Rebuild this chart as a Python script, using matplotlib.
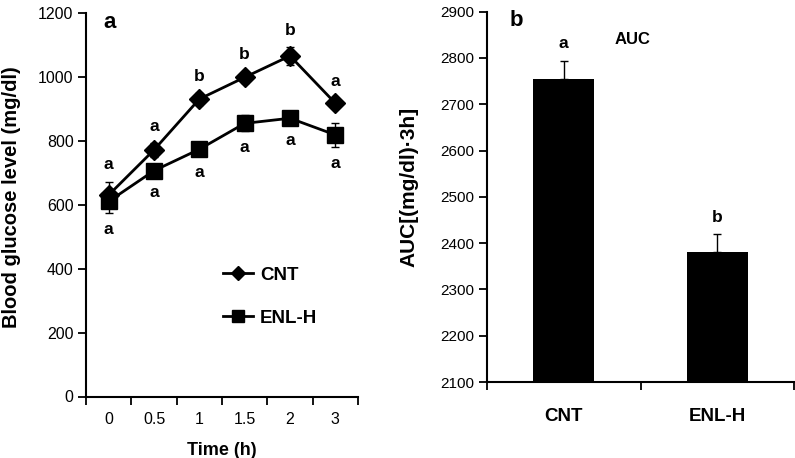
import matplotlib
matplotlib.use("Agg")
import matplotlib.pyplot as plt
import numpy as np
from matplotlib.lines import Line2D

plt.rcParams['font.family'] = ['Liberation Sans', 'DejaVu Sans']

# ---- data ----
time_labels = ["0", "0.5", "1", "1.5", "2", "3"]
cnt_mean = [630, 771, 930, 998, 1065, 917]
cnt_err = [42, 22, 20, 18, 27, 16]
enl_mean = [610, 706, 773, 854, 870, 818]
enl_err = [35, 16, 20, 25, 18, 38]
cnt_letters = ["a", "a", "b", "b", "b", "a"]
enl_letters = ["a", "a", "a", "a", "a", "a"]

groups = ["CNT", "ENL-H"]
auc_mean = [2754, 2380]
auc_err = [40, 39]
auc_letters = ["a", "b"]

W, H = 795, 458
fig = plt.figure(figsize=(W / 100, H / 100), dpi=100)

def box(x0, y0, x1, y1):
    return [x0 / W, 1 - y1 / H, (x1 - x0) / W, (y1 - y0) / H]

# ---------------- panel a ----------------
ax = fig.add_axes(box(86, 12.7, 358, 396.5))
x = np.arange(len(time_labels))
ax.errorbar(x, cnt_mean, yerr=cnt_err, color='black', lw=2, marker='D', ms=10.5,
            ecolor='black', elinewidth=1, capsize=3, capthick=1, zorder=3)
ax.errorbar(x, enl_mean, yerr=enl_err, color='black', lw=2, marker='s', ms=12,
            ecolor='black', elinewidth=1, capsize=3, capthick=1, zorder=3)
pad = 52
for i in range(len(x)):
    ax.text(x[i], cnt_mean[i] + cnt_err[i] + pad, cnt_letters[i], ha='center',
            va='center', fontsize=12.5, fontweight='bold')
    ax.text(x[i], enl_mean[i] - enl_err[i] - pad, enl_letters[i], ha='center',
            va='center', fontsize=12.5, fontweight='bold')

ax.set_xlim(-0.5, len(time_labels) - 0.5)
ax.set_ylim(0, 1200)
ax.set_yticks(np.arange(0, 1201, 200))
ax.set_xticks(np.arange(-0.5, len(time_labels), 1.0))
ax.set_xticklabels([])
ax.set_xticks(x, minor=True)
ax.set_xticklabels(time_labels, minor=True)
ax.tick_params(axis='x', which='minor', length=0, pad=11, labelsize=11.5)
ax.tick_params(axis='x', which='major', direction='out', length=6, width=1.3)
ax.tick_params(axis='y', direction='out', length=6, width=1.3, labelsize=11.5, pad=3)
for s in ['top', 'right']:
    ax.spines[s].set_visible(False)
for s in ['left', 'bottom']:
    ax.spines[s].set_linewidth(1.5)
ax.set_ylabel("Blood glucose level (mg/dl)", fontsize=14.5, fontweight='bold')
ax.yaxis.set_label_coords(-0.24, 0.52)
ax.set_xlabel("Time (h)", fontsize=13, fontweight='bold', labelpad=11)
ax.text(0.065, 0.975, "a", transform=ax.transAxes, fontsize=16, fontweight='bold',
        ha='left', va='center')

handles = [Line2D([], [], color='black', lw=2, marker='D', ms=7),
           Line2D([], [], color='black', lw=2, marker='s', ms=8)]
leg = ax.legend(handles, groups, loc='center left', bbox_to_anchor=(0.44, 0.26),
                frameon=False, handlelength=1.6, handletextpad=0.4, labelspacing=1.4,
                prop={'size': 13.5, 'weight': 'bold'})

# ---------------- panel b ----------------
bx = fig.add_axes(box(487, 11.7, 794, 382))
xb = np.arange(len(groups))
bx.bar(xb, auc_mean, width=0.4, color='black', zorder=2)
bx.errorbar(xb, auc_mean, yerr=[np.zeros(len(auc_err)), auc_err], fmt='none',
            ecolor='black', elinewidth=1, capsize=3, capthick=1, zorder=3)
for i in range(len(xb)):
    bx.text(xb[i], auc_mean[i] + auc_err[i] + 37, auc_letters[i], ha='center',
            va='center', fontsize=12.5, fontweight='bold')
bx.set_xlim(-0.5, len(groups) - 0.5)
bx.set_ylim(2100, 2900)
bx.set_yticks(np.arange(2100, 2901, 100))
bx.set_xticks(np.arange(-0.5, len(groups), 1.0))
bx.set_xticklabels([])
bx.set_xticks(xb, minor=True)
bx.set_xticklabels(groups, minor=True, fontweight='bold')
bx.tick_params(axis='x', which='minor', length=0, pad=19, labelsize=13.5)
bx.tick_params(axis='x', which='major', direction='out', length=6, width=1.3)
bx.tick_params(axis='y', direction='out', length=6, width=1.3, labelsize=11, pad=3)
for s in ['top', 'right']:
    bx.spines[s].set_visible(False)
for s in ['left', 'bottom']:
    bx.spines[s].set_linewidth(1.5)
bx.set_ylabel("AUC[(mg/dl)·3h]", fontsize=15, fontweight='bold')
bx.yaxis.set_label_coords(-0.222, 0.527)
bx.text(0.075, 0.975, "b", transform=bx.transAxes, fontsize=16, fontweight='bold',
        ha='left', va='center')
bx.text(0.475, 0.925, "AUC", transform=bx.transAxes, fontsize=12, fontweight='bold',
        ha='center', va='center')

fig.savefig("out.png", dpi=100)
